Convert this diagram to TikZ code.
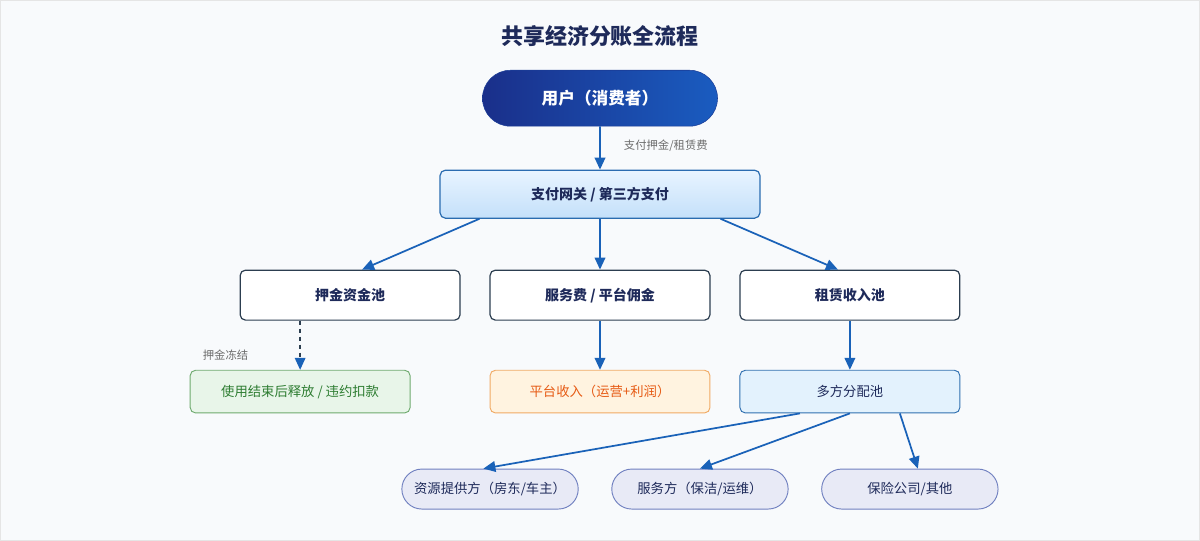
\documentclass[tikz,border=0pt]{standalone}
\usepackage{fontspec}
\setmainfont{Noto Sans CJK SC}
\usetikzlibrary{arrows.meta,shapes.misc}
\definecolor{bg}{HTML}{F8FAFC}
\definecolor{arr}{HTML}{1A62B8}
\definecolor{navy}{HTML}{1E2A5A}
\definecolor{u1}{HTML}{1A2F8A}
\definecolor{u2}{HTML}{1A5CC0}
\definecolor{u3}{HTML}{1A3C96}
\definecolor{gwb}{HTML}{2A6CB0}
\definecolor{gwt}{HTML}{E8F4FF}
\definecolor{gwbt}{HTML}{C4E0FA}
\definecolor{dk}{HTML}{2C3E50}
\definecolor{grd}{HTML}{6EAA6E}
\definecolor{grf}{HTML}{E8F5E9}
\definecolor{grt}{HTML}{2E7D32}
\definecolor{ord}{HTML}{F0AA64}
\definecolor{orf}{HTML}{FFF3E0}
\definecolor{ort}{HTML}{E65A14}
\definecolor{bld}{HTML}{3070B0}
\definecolor{blf}{HTML}{E3F2FD}
\definecolor{pld}{HTML}{7080C0}
\definecolor{plf}{HTML}{E8EAF6}
\tikzset{
 x=0.75pt,y=-0.75pt,
 box/.style={draw=#1,line width=0.9pt,rounded corners=4pt,minimum width=165pt,minimum height=37.5pt,font=\fontsize{10.5}{12}\selectfont\bfseries,text=navy},
 sub/.style={rounded corners=4pt,line width=0.7pt,minimum width=165pt,minimum height=32pt,font=\fontsize{10}{12}\selectfont},
 pill/.style={rounded rectangle,draw=pld,fill=plf,line width=0.7pt,minimum width=139pt,minimum height=30pt,font=\fontsize{10}{12}\selectfont,text=navy},
 ar/.style={draw=arr,line width=1.3pt,-{Triangle[length=9pt,width=8pt]}},
 lab/.style={font=\fontsize{8.5}{10}\selectfont,text=gray!85!black,anchor=west}
}
\begin{document}
\begin{tikzpicture}
\fill[bg,draw=gray!20] (0,0) rectangle (1200,540);
\useasboundingbox (0,0) rectangle (1200,540);
\node[font=\fontsize{16.5}{18}\selectfont\bfseries,text=navy] (title) at (600,36) {共享经济分账全流程};
\node[rounded rectangle,minimum width=183pt,minimum height=42pt,left color=u1,right color=u2,draw=u3,text=white,font=\fontsize{12.5}{14}\selectfont\bfseries] (user) at (600,98) {用户（消费者）};
\node[box=gwb,minimum width=240pt,minimum height=36pt,top color=gwt,bottom color=gwbt] (gw) at (600,194) {支付网关 / 第三方支付};
\node[box=dk,fill=white] (dep) at (350,295) {押金资金池};
\node[box=dk,fill=white] (fee) at (600,295) {服务费 / 平台佣金};
\node[box=dk,fill=white] (rent) at (850,295) {租赁收入池};
\node[sub,draw=grd,fill=grf,text=grt] (rel) at (300,391.5) {使用结束后释放 / 违约扣款};
\node[sub,draw=ord,fill=orf,text=ort] (inc) at (600,391.5) {平台收入（运营+利润）};
\node[sub,draw=bld,fill=blf,text=navy] (pool) at (850,391.5) {多方分配池};
\node[pill] (p1) at (490,489) {资源提供方（房东/车主）};
\node[pill] (p2) at (700,489) {服务方（保洁/运维）};
\node[pill] (p3) at (910,489) {保险公司/其他};
\draw[ar] (user) -- (gw) node[lab,pos=0.45,xshift=14pt] {支付押金/租赁费};
\draw[ar] ([xshift=30pt]gw.south west) -- ([xshift=9pt]dep.north);
\draw[ar] (gw) -- (fee);
\draw[ar] ([xshift=-30pt]gw.south east) -- ([xshift=-9pt]rent.north);
\draw[draw=dk,dashed,line width=1pt,-{Triangle[length=9pt,width=8pt,color=arr]}] ([xshift=-37.5pt]dep.south) -- (rel.north);
\node[lab] (fz) at (198,355) {押金冻结};
\draw[ar] (fee) -- (inc);
\draw[ar] (rent) -- (pool);
\draw[ar] ([xshift=-37.5pt]pool.south) -- ([xshift=-5pt]p1.north);
\draw[ar] (pool.south) -- (p2.north);
\draw[ar] ([xshift=37.5pt]pool.south) -- ([xshift=6pt]p3.north);
\end{tikzpicture}
\end{document}
